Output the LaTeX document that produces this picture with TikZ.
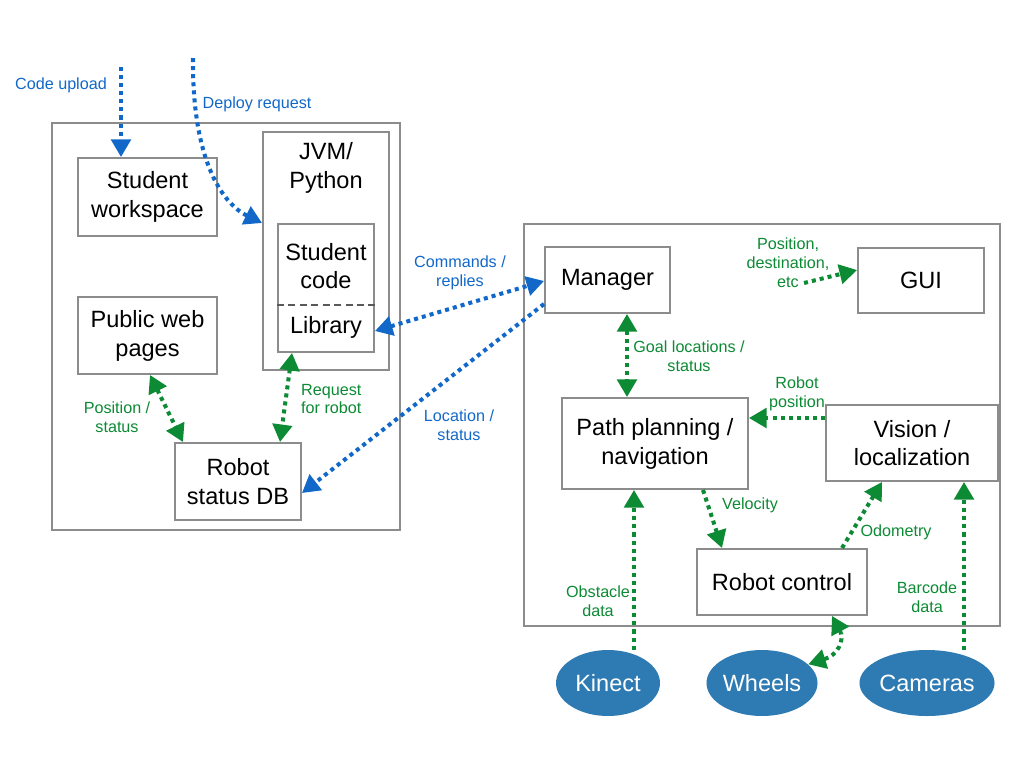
\documentclass[tikz,border=0pt]{standalone}
\usepackage{fontspec}
\setmainfont{Liberation Sans}
\usetikzlibrary{arrows.meta,shapes.geometric}
\definecolor{linkblue}{RGB}{18,104,200}
\definecolor{linkgreen}{RGB}{12,138,52}
\definecolor{boxgray}{RGB}{140,140,140}
\definecolor{hwblue}{RGB}{46,122,178}

\begin{document}
\begin{tikzpicture}[x=0.02cm,y=-0.02cm,
  box/.style={draw=boxgray,line width=1.1pt,align=center,inner sep=0pt,font=\fontsize{13.4}{16.4}\selectfont},
  boxtext/.style={align=center,font=\fontsize{13.4}{16.4}\selectfont},
  hw/.style={ellipse,fill=hwblue,text=white,inner sep=0pt,minimum height=1.32cm,font=\fontsize{13.4}{16.4}\selectfont},
  lbl/.style={align=center,font=\fontsize{9.2}{10.8}\selectfont},
  flow/.style={line width=2.3pt,dash pattern=on 2.3pt off 2.3pt,-{Triangle[length=10pt,width=11pt]}},
  flowboth/.style={flow,{Triangle[length=10pt,width=11pt]}-{Triangle[length=10pt,width=11pt]}},
  blueflow/.style={flow,draw=linkblue},
  blueboth/.style={flowboth,draw=linkblue},
  greenflow/.style={flow,draw=linkgreen},
  greenboth/.style={flowboth,draw=linkgreen}]
  \useasboundingbox (0,0) rectangle (1024,768);

  % server side
  \draw[boxgray,line width=1.1pt] (52,123) rectangle (400,530);
  \node[box,minimum width=2.78cm,minimum height=1.56cm] (ws) at (147.5,197) {Student\\workspace};
  \node[box,minimum width=2.52cm,minimum height=4.76cm] (jvm) at (326,251) {};
  \node[boxtext] (jvmtxt) at (326,168) {JVM/\\Python};
  \node[box,minimum width=1.92cm,minimum height=2.56cm] (code) at (326,288) {};
  \node[boxtext] (codetxt) at (326,266) {Student\\code};
  \node[boxtext] (lib) at (326,327) {Library};
  \draw[black!65,line width=1.5pt,dash pattern=on 4pt off 2.5pt] (code.west |- 0,305) -- (code.east |- 0,305);
  \node[box,minimum width=2.78cm,minimum height=1.54cm] (web) at (147.5,335.5) {Public web\\pages};
  \node[box,minimum width=2.52cm,minimum height=1.54cm] (db) at (238,481.5) {Robot\\status DB};

  % robot side
  \draw[boxgray,line width=1.1pt] (524,224) rectangle (1000,626);
  \node[box,minimum width=2.5cm,minimum height=1.32cm] (mgr) at (607.5,280) {Manager};
  \node[box,minimum width=2.52cm,minimum height=1.3cm] (gui) at (921,280.5) {GUI};
  \node[box,minimum width=3.72cm,minimum height=1.82cm] (path) at (655,443.5) {Path planning /\\navigation};
  \node[box,minimum width=3.44cm,minimum height=1.52cm] (vis) at (912,443) {Vision /\\localization};
  \node[box,minimum width=3.4cm,minimum height=1.32cm] (rc) at (782,582) {Robot control};

  % hardware
  \node[hw,minimum width=2.08cm] (kin) at (608,683) {Kinect};
  \node[hw,minimum width=2.08cm] (whl) at (762,683) {Wheels};
  \node[hw,minimum width=2.52cm] (cam) at (927,683) {Cameras};

  % blue links
  \coordinate (up) at (121,67);
  \coordinate (dep) at (193,58);
  \draw[blueflow] (up) -- (ws.north -| up);
  \node[lbl,text=linkblue] (uplbl) at (61,85) {Code upload};
  \draw[blueflow] (dep) .. controls (192,165) and (225,205) .. (jvm.west |- 0,223);
  \node[lbl,text=linkblue] (deplbl) at (257,104) {Deploy request};
  \draw[blueboth] (code.east |- 0,331) -- (mgr.west |- 0,281);
  \node[lbl,text=linkblue] (cmdlbl) at (460,273) {Commands /\\replies};
  \draw[blueflow] (mgr.west |- 0,304) -- (db.east |- 0,493);
  \node[lbl,text=linkblue] (loclbl) at (459,425) {Location /\\status};

  % green links
  \draw[greenboth] (code.south -| 292,0) -- (db.north -| 280,0);
  \node[lbl,text=linkgreen,align=left,anchor=west] (reqlbl) at (295,399) {Request\\for robot};
  \draw[greenboth] (web.south -| 150,0) -- (db.north -| 183,0);
  \node[lbl,text=linkgreen] (poslbl) at (117,417) {Position /\\status};
  \draw[greenboth] (mgr.south -| 627,0) -- (path.north -| 627,0);
  \node[lbl,text=linkgreen] (goallbl) at (689,356) {Goal locations /\\status};
  \coordinate (pd) at (804,283);
  \draw[greenflow] (pd) -- (gui.west |- 0,270);
  \node[lbl,text=linkgreen] (pdlbl) at (788,263) {Position,\\destination,\\etc};
  \draw[greenflow] (vis.west |- 0,418) -- (path.east |- 0,418);
  \node[lbl,text=linkgreen] (rplbl) at (797,394) {Robot\\position};
  \draw[greenflow] (path.south -| 703,0) -- (rc.north -| 722,0);
  \node[lbl,text=linkgreen] (vellbl) at (750,505) {Velocity};
  \draw[greenflow] (rc.north -| 842,0) -- (vis.south -| 882,0);
  \node[lbl,text=linkgreen] (odolbl) at (896,532) {Odometry};
  \draw[greenflow] (kin.north -| 634,0) -- (path.south -| 634,0);
  \node[lbl,text=linkgreen] (obslbl) at (598,601) {Obstacle\\data};
  \draw[greenflow] (cam.north -| 964,0) -- (vis.south -| 964,0);
  \node[lbl,text=linkgreen] (barlbl) at (927,597) {Barcode\\data};
  \draw[greenboth] (rc.south -| 832,0) .. controls (845,640) and (838,655) .. (whl.22);
\end{tikzpicture}
\end{document}
